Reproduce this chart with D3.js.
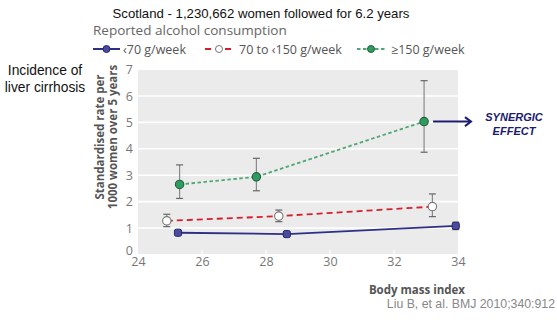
<!DOCTYPE html>
<html>
<head>
<meta charset="utf-8">
<script src="https://cdn.jsdelivr.net/npm/d3@7"></script>
<style>
  html, body { margin: 0; padding: 0; background: #fff; }
  svg { display: block; }
</style>
</head>
<body>
<svg id="chart" width="557" height="320"></svg>
<script>
// Body mass index (x) and standardised rate per 1000 women over 5 years (y), with 95% CI
const seriesNames = ["‹70 g/week", "70 to ‹150 g/week", "≥150 g/week"];
const lowBmi   = [25.25, 28.65, 33.93];
const lowRate  = [0.82, 0.77, 1.08];
const lowLo    = [0.75, 0.71, 0.94];
const lowHi    = [0.88, 0.83, 1.22];
const midBmi   = [24.9, 28.4, 33.2];
const midRate  = [1.27, 1.45, 1.81];
const midLo    = [1.05, 1.24, 1.43];
const midHi    = [1.52, 1.68, 2.29];
const highBmi  = [25.3, 27.7, 32.94];
const highRate = [2.65, 2.94, 5.03];
const highLo   = [2.12, 2.41, 3.87];
const highHi   = [3.39, 3.64, 6.58];
const xTicks = [24, 26, 28, 30, 32, 34];
const yTicks = [0, 1, 2, 3, 4, 5, 6, 7];

const svg = d3.select("#chart");
const panel = { left: 138, right: 458, top: 70, bottom: 254 };

const x = d3.scaleLinear().domain([24, 34]).range([panel.left, panel.right]);
const y = d3.scaleLinear().domain([0, 7]).range([254.4, 69.6]);

const sans = "'Open Sans', 'Noto Sans', sans-serif";
const arial = "'Liberation Sans', Arial, sans-serif";

// Title and side labels
svg.append("text").attr("x", 261).attr("y", 18).attr("text-anchor", "middle")
  .style("font-family", arial).style("font-size", "13.2px").attr("fill", "#111")
  .text("Scotland - 1,230,662 women followed for 6.2 years");

const inc = svg.append("text").attr("text-anchor", "middle")
  .style("font-family", arial).style("font-size", "13.8px").attr("fill", "#111");
inc.append("tspan").attr("x", 45).attr("y", 75).text("Incidence of");
inc.append("tspan").attr("x", 45).attr("y", 92).text("liver cirrhosis");

// Legend
svg.append("text").attr("x", 93).attr("y", 35)
  .style("font-family", sans).style("font-size", "13.5px").attr("fill", "#666")
  .text("Reported alcohol consumption");

// Plot panel
svg.append("rect")
  .attr("x", panel.left).attr("y", panel.top)
  .attr("width", panel.right - panel.left).attr("height", panel.bottom - panel.top)
  .attr("fill", "#ebebeb");

// Horizontal gridlines
svg.append("g").selectAll("line").data(yTicks.filter(d => d > 0 && d < 7)).join("line")
  .attr("x1", panel.left).attr("x2", panel.right)
  .attr("y1", d => y(d)).attr("y2", d => y(d))
  .attr("stroke", "#fff").attr("stroke-width", 1.6);

// Axes
const yAxis = svg.append("g").attr("transform", `translate(${panel.left},0)`)
  .call(d3.axisLeft(y).tickValues(yTicks).tickFormat(d3.format("d")).tickSize(0).tickPadding(5));
yAxis.select(".domain").remove();
yAxis.selectAll("text").style("font-family", sans).style("font-size", "12.5px").attr("fill", "#777");
// lift the zero label clear of the x-axis labels
yAxis.selectAll(".tick").filter(d => d === 0).select("text").attr("y", -4);

const xAxis = svg.append("g").attr("transform", `translate(0,${panel.bottom})`)
  .call(d3.axisBottom(x).tickValues(xTicks).tickFormat(d3.format("d")).tickSize(0).tickPadding(3));
xAxis.select(".domain").remove();
xAxis.selectAll("text").style("font-family", sans).style("font-size", "12.5px").attr("fill", "#777");

// Small inward ticks along the bottom edge
svg.append("g").selectAll("line").data(xTicks.slice(1, -1)).join("line")
  .attr("x1", d => x(d)).attr("x2", d => x(d))
  .attr("y1", panel.bottom - 4).attr("y2", panel.bottom)
  .attr("stroke", "#fff").attr("stroke-width", 1.2);

// Axis titles
const yt = svg.append("text").attr("transform", "translate(104,137) rotate(-90)")
  .attr("text-anchor", "middle")
  .style("font-family", sans).style("font-size", "11.5px").style("font-weight", "bold").attr("fill", "#555");
yt.append("tspan").attr("x", 0).attr("y", 0).text("Standardised rate per");
yt.append("tspan").attr("x", 0).attr("y", 13).text("1000 women over 5 years");

svg.append("text").attr("x", 465).attr("y", 294).attr("text-anchor", "end")
  .style("font-family", sans).style("font-size", "11.5px").style("font-weight", "bold").attr("fill", "#555")
  .text("Body mass index");

svg.append("text").attr("x", 555).attr("y", 308).attr("text-anchor", "end")
  .style("font-family", arial).style("font-size", "12.3px").attr("fill", "#888")
  .text("Liu B, et al. BMJ 2010;340:912");

// Series definitions
const series = [
  { name: seriesNames[0], xs: lowBmi, ys: lowRate, lo: lowLo, hi: lowHi,
    stroke: "#2f2f86", dash: null, width: 1.8, marker: "square", fill: "#4a4a9e", mstroke: "#26266e" },
  { name: seriesNames[1], xs: midBmi, ys: midRate, lo: midLo, hi: midHi,
    stroke: "#d4202a", dash: "6,4", width: 1.8, marker: "circle", fill: "#fff", mstroke: "#777" },
  { name: seriesNames[2], xs: highBmi, ys: highRate, lo: highLo, hi: highHi,
    stroke: "#4fa873", dash: "3.5,2.5", width: 1.8, marker: "circle", fill: "#2e9c5e", mstroke: "#23603f" }
];

const line = d3.line().x(d => x(d[0])).y(d => y(d[1]));

function drawMarker(g, s, cx, cy) {
  if (s.marker === "square") {
    g.append("rect").attr("x", cx - 3.6).attr("y", cy - 3.6).attr("width", 7.2).attr("height", 7.2)
      .attr("rx", 2).attr("fill", s.fill).attr("stroke", s.mstroke).attr("stroke-width", 1);
  } else {
    g.append("circle").attr("cx", cx).attr("cy", cy).attr("r", 4.2)
      .attr("fill", s.fill).attr("stroke", s.mstroke).attr("stroke-width", 1.1);
  }
}

series.forEach(s => {
  const pts = s.xs.map((v, i) => [v, s.ys[i]]);
  const g = svg.append("g");
  // Error bars
  s.xs.forEach((v, i) => {
    const cx = x(v);
    g.append("line").attr("x1", cx).attr("x2", cx).attr("y1", y(s.lo[i])).attr("y2", y(s.hi[i]))
      .attr("stroke", "#8a8a8a").attr("stroke-width", 1.2);
    [s.lo[i], s.hi[i]].forEach(b => {
      g.append("line").attr("x1", cx - 3.5).attr("x2", cx + 3.5).attr("y1", y(b)).attr("y2", y(b))
        .attr("stroke", "#666").attr("stroke-width", 1.2);
    });
  });
  g.append("path").datum(pts).attr("d", line).attr("fill", "none")
    .attr("stroke", s.stroke).attr("stroke-width", s.width)
    .attr("stroke-dasharray", s.dash);
  pts.forEach(p => drawMarker(g, s, x(p[0]), y(p[1])));
});

// Legend rows
const legendItems = [
  { s: series[0], x0: 93, x1: 120, tx: 123 },
  { s: series[1], x0: 205, x1: 233, tx: 239 },
  { s: series[2], x0: 357, x1: 385, tx: 391 }
];
legendItems.forEach(it => {
  const ly = 49;
  const g = svg.append("g");
  g.append("line").attr("x1", it.x0).attr("x2", it.x1).attr("y1", ly).attr("y2", ly)
    .attr("stroke", it.s.stroke).attr("stroke-width", 2)
    .attr("stroke-dasharray", it.s.dash);
  const mid = (it.x0 + it.x1) / 2;
  g.append("circle").attr("cx", mid).attr("cy", ly).attr("r", 3.5).attr("fill", it.s.fill)
    .attr("stroke", it.s.mstroke).attr("stroke-width", 1);
  g.append("text").attr("x", it.tx).attr("y", ly + 4.5)
    .style("font-family", sans).style("font-size", "12.5px").attr("fill", "#555")
    .text(it.s.name);
});

// Annotation arrow at the highest point
const ax = x(highBmi[2]) + 9, ay = y(highRate[2]);
svg.append("line").attr("x1", ax).attr("x2", 470).attr("y1", ay).attr("y2", ay)
  .attr("stroke", "#1b1b70").attr("stroke-width", 2);
svg.append("path").attr("d", `M${465},${ay - 4.5} L${471},${ay} L${465},${ay + 4.5}`)
  .attr("fill", "none").attr("stroke", "#1b1b70").attr("stroke-width", 2);
const syn = svg.append("text").attr("text-anchor", "middle")
  .style("font-family", arial).style("font-size", "11px").style("font-weight", "bold")
  .style("font-style", "italic").attr("fill", "#1b1b70");
syn.append("tspan").attr("x", 514).attr("y", 121).text("SYNERGIC");
syn.append("tspan").attr("x", 514).attr("y", 135).text("EFFECT");
</script>
</body>
</html>
